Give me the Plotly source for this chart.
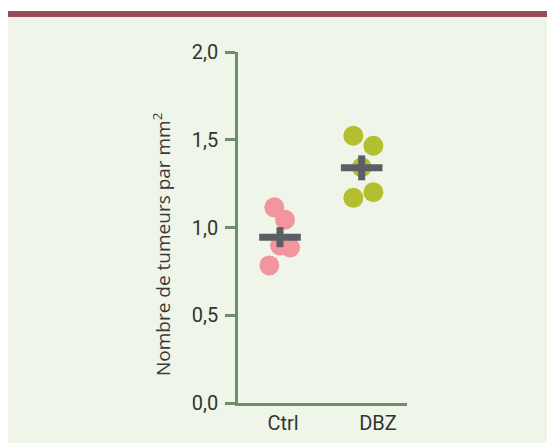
import plotly.graph_objects as go

# tumour counts per mm2
groups = ["Ctrl", "DBZ"]
group_pos = [1, 2]
ctrl_x = [0.908, 1.021, 0.968, 1.074, 0.856]
ctrl_y = [1.115, 1.044, 0.898, 0.886, 0.784]
dbz_x = [1.740, 1.951, 1.828, 1.951, 1.740]
dbz_y = [1.523, 1.466, 1.343, 1.201, 1.169]
mean_x = [0.968, 1.828]
mean_y = [0.945, 1.340]
sem_y = [0.057, 0.071]
y_ticks = [0, 0.5, 1.0, 1.5, 2.0]
y_ticktext = ["0,0", "0,5", "1,0", "1,5", "2,0"]

TICK_FONT = "Roboto, Noto Sans, sans-serif"
TITLE_FONT = "Open Sans, Noto Sans, sans-serif"
AXIS = "#6c8e6c"

# figure sits 8px in from the page corner (body margin)
W, H = 547, 435
L, T, PW, PH = 230, 44, 169, 351


def px_x(p):
    return (p - L) / PW


def px_y(p):
    return (T + PH - p) / PH


fig = go.Figure()
fig.add_trace(go.Scatter(
    x=ctrl_x, y=ctrl_y, mode="markers",
    marker=dict(size=20, color="#f3959e", line_width=0), showlegend=False
))
fig.add_trace(go.Scatter(
    x=dbz_x, y=dbz_y, mode="markers",
    marker=dict(size=20, color="#b3bf2e", line_width=0), showlegend=False
))
fig.add_trace(go.Scatter(
    x=mean_x, y=mean_y, mode="markers",
    marker=dict(size=1, color="rgba(0,0,0,0)"),
    error_x=dict(type="constant", value=0.219, thickness=7, width=0, color="#5b5e63"),
    error_y=dict(type="data", array=sem_y, thickness=7, width=0, color="#5b5e63"),
    showlegend=False
))

# light green panel and maroon band on top
fig.add_shape(type="rect", xref="paper", yref="paper", layer="below",
              x0=px_x(0), x1=px_x(W), y0=px_y(H), y1=px_y(9),
              fillcolor="#eff5e8", line_width=0)
fig.add_shape(type="rect", xref="paper", yref="paper", layer="below",
              x0=px_x(0), x1=px_x(W), y0=px_y(9), y1=px_y(3),
              fillcolor="#994c5b", line_width=0)

fig.add_annotation(
    text="Nombre de tumeurs par mm<sup>2</sup>", textangle=-90,
    xref="paper", yref="paper", x=px_x(154), y=px_y(237),
    xanchor="center", yanchor="middle", showarrow=False,
    font=dict(family=TITLE_FONT, size=19, color="#3a3a3a")
)

fig.update_layout(
    width=W, height=H,
    margin=dict(l=L, r=W - L - PW, t=T, b=H - T - PH),
    paper_bgcolor="white", plot_bgcolor="rgba(0,0,0,0)",
    font=dict(family=TICK_FONT, size=20, color="#333333"),
    xaxis=dict(range=[0.526, 2.305], tickvals=group_pos, ticktext=groups,
               showgrid=False, zeroline=False, showline=True, linecolor=AXIS,
               linewidth=2.5, ticks="", ticklabelstandoff=0, automargin=False),
    yaxis=dict(range=[0, 2], tickvals=y_ticks, ticktext=y_ticktext,
               showgrid=False, zeroline=False, showline=True, linecolor=AXIS,
               linewidth=2.5, ticks="outside", ticklen=10, tickwidth=2.5,
               tickcolor=AXIS, ticklabelstandoff=3, automargin=False),
)

fig.write_html("out.html")
